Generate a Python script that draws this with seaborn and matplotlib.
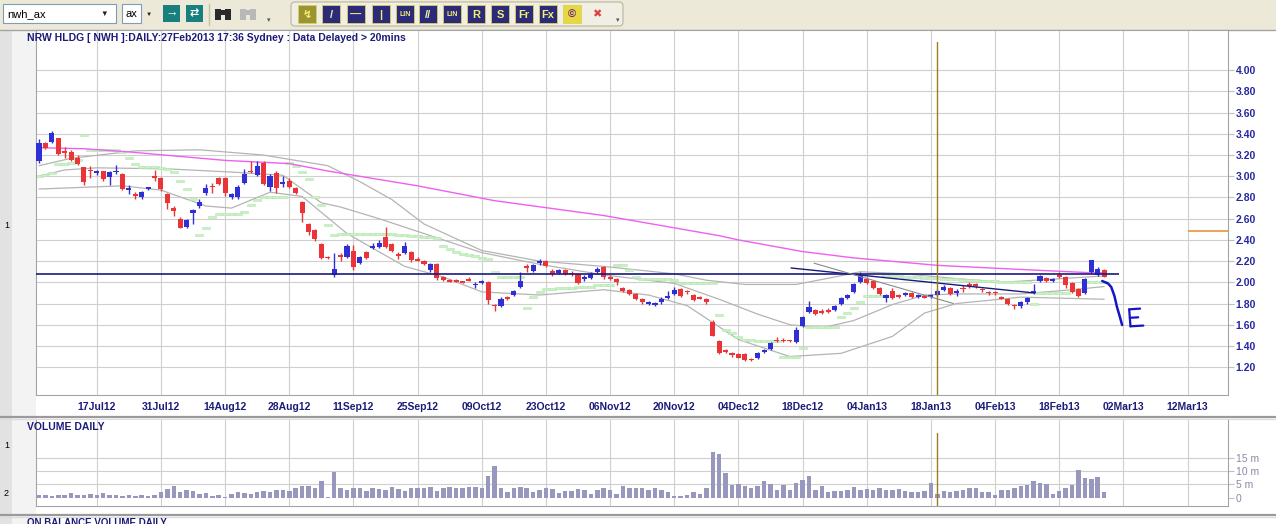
import numpy as np
import matplotlib.pyplot as plt
import seaborn as sns
from matplotlib.patches import Rectangle, FancyBboxPatch

W, H = 1276, 524

# ---------------- data ----------------
date_labels = ["17Jul12", "31Jul12", "14Aug12", "28Aug12", "11Sep12", "25Sep12",
               "09Oct12", "23Oct12", "06Nov12", "20Nov12", "04Dec12", "18Dec12",
               "04Jan13", "18Jan13", "04Feb13", "18Feb13", "02Mar13", "12Mar13"]
date_pos = [9, 19, 29, 39, 49, 59, 69, 79, 89, 99, 109, 119, 129, 139, 149, 159, 169, 179]

opens = [3.14, 3.31, 3.32, 3.36, 3.24, 3.23, 3.17, 3.09, 3.06, 3.04,
         3.05, 2.99, 3.04, 3.02, 2.875, 2.83, 2.80, 2.885, 3.00, 2.98,
         2.83, 2.70, 2.60, 2.52, 2.65, 2.72, 2.84, 2.91, 2.98, 2.98,
         2.80, 2.80, 2.94, 3.05, 3.01, 3.13, 2.90, 3.03, 2.935, 2.96,
         2.89, 2.76, 2.55, 2.49, 2.36, 2.24, 2.07, 2.25, 2.24, 2.30,
         2.18, 2.29, 2.325, 2.33, 2.43, 2.36, 2.26, 2.28, 2.29, 2.215,
         2.20, 2.12, 2.17, 2.05, 2.015, 2.015, 2.005, 2.025, 1.975, 1.99,
         2.00, 1.785, 1.78, 1.855, 1.88, 1.96, 2.145, 2.11, 2.185, 2.20,
         2.11, 2.09, 2.12, 2.085, 2.08, 2.035, 2.04, 2.10, 2.14, 2.045,
         2.03, 1.95, 1.93, 1.89, 1.84, 1.805, 1.795, 1.81, 1.855, 1.89,
         1.94, 1.915, 1.88, 1.855, 1.84, 1.63, 1.45, 1.355, 1.33, 1.32,
         1.32, 1.275, 1.29, 1.345, 1.37, 1.455, 1.455, 1.455, 1.44, 1.59,
         1.72, 1.74, 1.725, 1.735, 1.74, 1.80, 1.85, 1.91, 2.00, 2.03,
         2.01, 1.95, 1.85, 1.92, 1.88, 1.885, 1.90, 1.86, 1.865, 1.865,
         1.88, 1.93, 1.95, 1.905, 1.945, 1.975, 1.975, 1.935, 1.905, 1.905,
         1.86, 1.84, 1.785, 1.78, 1.81, 1.90, 2.01, 2.04, 2.01, 2.065,
         2.05, 1.99, 1.94, 1.90, 2.10, 2.07, 2.12]
highs = [3.35, 3.32, 3.43, 3.36, 3.28, 3.25, 3.20, 3.09, 3.10, 3.06,
         3.05, 3.05, 3.11, 3.03, 2.92, 2.85, 2.86, 2.90, 3.06, 2.99,
         2.84, 2.72, 2.62, 2.60, 2.69, 2.79, 2.93, 2.94, 2.99, 2.99,
         2.84, 2.92, 3.07, 3.14, 3.14, 3.14, 3.02, 3.05, 3.00, 2.98,
         2.90, 2.77, 2.56, 2.50, 2.37, 2.25, 2.28, 2.28, 2.36, 2.35,
         2.25, 2.30, 2.37, 2.40, 2.52, 2.37, 2.29, 2.38, 2.30, 2.24,
         2.21, 2.18, 2.18, 2.06, 2.03, 2.03, 2.01, 2.05, 2.00, 2.02,
         2.01, 1.80, 1.86, 1.87, 1.93, 2.10, 2.17, 2.17, 2.22, 2.21,
         2.13, 2.13, 2.13, 2.11, 2.09, 2.07, 2.10, 2.14, 2.15, 2.07,
         2.04, 1.96, 1.94, 1.90, 1.85, 1.82, 1.81, 1.86, 1.92, 1.96,
         1.95, 1.93, 1.89, 1.87, 1.85, 1.64, 1.46, 1.37, 1.34, 1.33,
         1.33, 1.29, 1.34, 1.37, 1.44, 1.48, 1.47, 1.46, 1.58, 1.68,
         1.82, 1.75, 1.75, 1.76, 1.79, 1.86, 1.89, 1.99, 2.10, 2.05,
         2.02, 1.96, 1.89, 1.95, 1.89, 1.91, 1.91, 1.89, 1.88, 1.89,
         1.94, 1.97, 1.96, 1.94, 1.97, 2.00, 1.99, 1.95, 1.92, 1.92,
         1.87, 1.85, 1.80, 1.82, 1.86, 1.98, 2.07, 2.05, 2.04, 2.10,
         2.06, 2.00, 1.95, 2.04, 2.21, 2.14, 2.13]
lows = [3.13, 3.26, 3.31, 3.20, 3.17, 3.14, 3.11, 2.92, 2.98, 3.01,
        2.96, 2.92, 3.02, 2.87, 2.83, 2.79, 2.79, 2.87, 2.96, 2.86,
        2.69, 2.63, 2.51, 2.51, 2.55, 2.70, 2.82, 2.84, 2.92, 2.81,
        2.79, 2.79, 2.93, 3.03, 3.00, 2.92, 2.86, 2.84, 2.90, 2.89,
        2.83, 2.57, 2.45, 2.39, 2.22, 2.22, 2.05, 2.20, 2.23, 2.12,
        2.17, 2.22, 2.31, 2.32, 2.32, 2.29, 2.22, 2.27, 2.19, 2.20,
        2.16, 2.10, 2.02, 2.01, 2.00, 2.00, 1.99, 2.01, 1.95, 1.98,
        1.80, 1.73, 1.77, 1.83, 1.87, 1.95, 2.10, 2.10, 2.16, 2.14,
        2.06, 2.08, 2.07, 2.06, 1.98, 2.01, 2.03, 2.09, 2.03, 2.02,
        1.97, 1.91, 1.88, 1.83, 1.80, 1.79, 1.78, 1.80, 1.84, 1.88,
        1.86, 1.89, 1.82, 1.84, 1.80, 1.49, 1.32, 1.33, 1.30, 1.29,
        1.26, 1.26, 1.28, 1.33, 1.36, 1.44, 1.44, 1.44, 1.43, 1.58,
        1.71, 1.69, 1.70, 1.71, 1.73, 1.79, 1.84, 1.90, 1.99, 1.98,
        1.94, 1.88, 1.81, 1.84, 1.85, 1.87, 1.85, 1.85, 1.85, 1.85,
        1.87, 1.92, 1.88, 1.87, 1.91, 1.95, 1.95, 1.91, 1.88, 1.88,
        1.84, 1.79, 1.75, 1.76, 1.80, 1.89, 2.00, 2.00, 2.00, 2.04,
        1.95, 1.90, 1.86, 1.89, 2.09, 2.06, 2.05]
closes = [3.31, 3.27, 3.41, 3.21, 3.22, 3.15, 3.12, 2.95, 3.05, 3.045,
          2.97, 3.04, 3.05, 2.88, 2.885, 2.82, 2.85, 2.89, 2.99, 2.88,
          2.75, 2.67, 2.51, 2.59, 2.68, 2.76, 2.89, 2.90, 2.93, 2.84,
          2.83, 2.90, 3.02, 3.04, 3.10, 2.93, 3.00, 2.89, 2.945, 2.90,
          2.84, 2.65, 2.47, 2.41, 2.23, 2.23, 2.13, 2.24, 2.34, 2.14,
          2.24, 2.23, 2.335, 2.37, 2.33, 2.30, 2.25, 2.34, 2.21, 2.21,
          2.17, 2.17, 2.04, 2.02, 2.01, 2.01, 2.00, 2.02, 1.985, 2.01,
          1.83, 1.78, 1.84, 1.85, 1.92, 2.01, 2.14, 2.16, 2.195, 2.15,
          2.08, 2.12, 2.08, 2.08, 1.99, 2.045, 2.08, 2.13, 2.05, 2.04,
          2.00, 1.92, 1.89, 1.84, 1.81, 1.81, 1.80, 1.84, 1.865, 1.93,
          1.87, 1.91, 1.83, 1.85, 1.81, 1.49, 1.33, 1.35, 1.31, 1.29,
          1.27, 1.27, 1.33, 1.355, 1.43, 1.45, 1.45, 1.45, 1.55, 1.67,
          1.77, 1.70, 1.72, 1.73, 1.78, 1.85, 1.88, 1.98, 2.07, 1.99,
          1.95, 1.89, 1.88, 1.85, 1.86, 1.895, 1.86, 1.88, 1.86, 1.875,
          1.92, 1.96, 1.89, 1.915, 1.94, 1.97, 1.97, 1.93, 1.90, 1.90,
          1.85, 1.80, 1.78, 1.81, 1.85, 1.92, 2.06, 2.01, 2.03, 2.06,
          1.97, 1.91, 1.87, 2.03, 2.21, 2.13, 2.05]
volume_m = [1.0, 1.0, 0.8, 1.0, 1.2, 1.8, 1.0, 1.2, 1.5, 1.0,
            1.8, 1.0, 1.2, 0.5, 1.0, 0.8, 1.2, 0.8, 1.0, 2.0,
            3.2, 4.5, 2.0, 3.0, 2.5, 1.5, 1.8, 0.8, 1.0, 0.3,
            1.5, 2.0, 1.8, 1.5, 2.0, 2.5, 2.0, 2.8, 3.0, 2.5,
            3.5, 4.5, 4.5, 3.8, 6.2, 0.3, 9.8, 3.5, 3.0, 3.8,
            3.8, 2.5, 3.5, 3.2, 3.0, 4.0, 3.2, 2.5, 3.5, 3.8,
            3.8, 4.0, 2.5, 3.8, 4.0, 3.8, 3.5, 4.0, 4.2, 3.5,
            8.2, 11.8, 3.5, 2.0, 3.8, 4.0, 3.8, 2.0, 3.0, 3.5,
            3.2, 1.8, 2.5, 2.5, 3.2, 3.0, 1.5, 2.8, 3.8, 3.0,
            1.5, 4.5, 3.8, 3.5, 3.8, 3.0, 3.5, 2.8, 2.2, 0.6,
            0.8, 1.2, 2.0, 1.5, 3.5, 17.0, 16.3, 9.3, 4.8, 5.0,
            4.3, 3.8, 4.5, 6.2, 5.3, 3.0, 4.8, 3.0, 5.5, 6.5,
            8.2, 3.0, 4.5, 2.0, 2.5, 2.5, 3.0, 4.0, 3.0, 3.2,
            3.0, 3.5, 2.8, 3.0, 3.2, 2.5, 2.0, 2.2, 2.5, 5.5,
            1.5, 2.5, 2.0, 2.5, 3.0, 3.8, 3.5, 2.2, 2.0, 1.2,
            2.8, 3.0, 3.5, 4.5, 4.8, 6.2, 5.5, 5.3, 1.5, 2.5,
            3.8, 4.8, 10.5, 7.4, 7.0, 7.8, 2.0]
sar = [3.00, 3.01, 3.03, 3.12, 3.12, 3.13, 3.15, 3.39, 3.25, 3.25,
       3.25, 3.25, 3.25, 3.23, 3.17, 3.12, 3.09, 3.09, 3.09, 3.08,
       3.07, 3.04, 2.96, 2.88, 2.79, 2.45, 2.51, 2.62, 2.64, 2.64,
       2.64, 2.64, 2.66, 2.73, 2.78, 2.80, 2.80, 2.80, 2.80, 3.13,
       3.10, 3.04, 2.97, 2.80, 2.73, 2.54, 2.45, 2.46, 2.46, 2.46,
       2.46, 2.46, 2.46, 2.46, 2.46, 2.46, 2.45, 2.45, 2.44, 2.44,
       2.43, 2.43, 2.42, 2.34, 2.31, 2.29, 2.27, 2.26, 2.25, 2.23,
       2.22, 2.10, 2.05, 2.05, 2.05, 2.05, 1.76, 1.86, 1.91, 1.94,
       1.94, 1.95, 1.95, 1.95, 1.96, 1.96, 1.96, 1.97, 1.97, 1.97,
       2.16, 2.16, 2.12, 2.05, 2.03, 2.03, 2.03, 2.03, 2.03, 2.02,
       1.99, 1.99, 1.99, 1.99, 1.99, 1.99, 1.69, 1.55, 1.52, 1.48,
       1.46, 1.46, 1.45, 1.45, 1.45, 1.45, 1.30, 1.30, 1.30, 1.38,
       1.58, 1.58, 1.58, 1.58, 1.58, 1.67, 1.71, 1.76, 1.81, 1.87,
       1.87, 1.87, 2.07, 2.06, 2.06, 2.05, 2.05, 2.05, 2.04, 2.04,
       2.04, 2.03, 2.03, 2.03, 2.02, 2.02, 2.02, 2.01, 2.01, 2.01,
       2.00, 2.00, 2.00, 2.00, 2.00, 1.80, 1.90, 1.90, 1.90, 1.90,
       1.90, 1.93, 1.93, 2.00, 2.00, 2.00, 2.00]

# long moving average (magenta) and bands (grey), sampled where read
ma_idx = [0, 7, 14, 29, 39, 45, 48, 59, 71, 88, 106, 109, 119, 127, 140, 150, 164, 166]
ma_val = [3.27, 3.26, 3.23, 3.15, 3.12, 3.05, 3.02, 2.91, 2.77, 2.63, 2.44, 2.40, 2.29, 2.23, 2.16, 2.13, 2.09, 2.09]
bb_up_idx = [0, 5, 15, 25, 35, 40, 45, 50, 55, 60, 69, 78, 88, 99, 104, 110, 118, 124, 128, 135, 142, 150, 158, 166]
bb_up_val = [3.10, 3.17, 3.24, 3.25, 3.20, 3.15, 3.10, 2.95, 2.78, 2.55, 2.30, 2.20, 2.15, 2.08, 2.02, 1.98, 1.98, 2.05, 2.10, 2.08, 2.04, 2.00, 2.03, 2.06]
bb_mid_idx = [0, 4, 9, 20, 30, 38, 44, 47, 53, 59, 64, 69, 78, 88, 99, 106, 112, 117, 122, 127, 133, 138, 143, 153, 161, 166]
bb_mid_val = [3.00, 3.06, 3.08, 3.07, 3.04, 3.01, 2.75, 2.71, 2.60, 2.48, 2.38, 2.28, 2.17, 2.07, 1.99, 1.84, 1.70, 1.60, 1.57, 1.64, 1.79, 1.88, 1.89, 1.89, 1.93, 1.96]
bb_low_idx = [0, 13, 19, 26, 30, 36, 41, 48, 57, 63, 69, 78, 88, 95, 101, 105, 109, 117, 125, 133, 138, 143, 153, 166]
bb_low_val = [2.88, 2.91, 2.87, 2.72, 2.70, 2.85, 2.81, 2.46, 2.15, 2.05, 1.91, 1.88, 1.93, 1.88, 1.78, 1.62, 1.46, 1.30, 1.33, 1.49, 1.71, 1.80, 1.86, 1.84]

# drawn objects on the chart
support_level = 2.075
support_span = [-0.5, 168.3]
trend_idx = [117.2, 155.2]
trend_val = [2.135, 1.899]
fan_idx = [120.8, 142.5]
fan_val = [2.18, 1.80]
target_level = 2.48
target_span = [179, 186]
cursor_idx = 140
pen_idx = [165.7, 166.6, 167.1, 167.6, 168.0, 168.5, 168.8]
pen_val = [2.012, 1.989, 1.956, 1.871, 1.767, 1.663, 1.597]

price_ticks = [1.2, 1.4, 1.6, 1.8, 2.0, 2.2, 2.4, 2.6, 2.8, 3.0, 3.2, 3.4, 3.6, 3.8, 4.0]
vol_ticks = [0, 5, 10, 15]
vol_tick_labels = ["0", "5 m", "10 m", "15 m"]

title = "NRW HLDG [ NWH ]:DAILY:27Feb2013 17:36 Sydney : Data Delayed > 20mins"

# ---------------- styling ----------------
NAVY = "#1c1c78"
BLUE = "#2f2fd4"
RED = "#ea3438"
GRID = "#cfcfcf"
FRAME = "#a4a4a4"

sns.set_style("white")
plt.rcParams["font.family"] = ["Liberation Sans", "DejaVu Sans"]

fig = plt.figure(figsize=(W / 100, H / 100), dpi=100)
fig.patch.set_facecolor("white")


def frac(x0, y0, x1, y1):
    return [x0 / W, 1 - y1 / H, (x1 - x0) / W, (y1 - y0) / H]


# background chrome in pixel coordinates
bg = fig.add_axes([0, 0, 1, 1], zorder=-5)
bg.set_xlim(0, W)
bg.set_ylim(H, 0)
bg.axis("off")


def box(x0, y0, x1, y1, fc, ec="none", lw=0.8, z=1):
    bg.add_patch(Rectangle((x0, y0), x1 - x0, y1 - y0, facecolor=fc,
                           edgecolor=ec, linewidth=lw, zorder=z))


box(0, 30, 12, H, "#e2e2e2")
box(12, 30, 36, H, "#f3f3f3")
box(0, 0, W, 30, "#ece9d8")
bg.plot([0, W], [30, 30], color=FRAME, lw=1)
for yy in (417, 515):
    bg.plot([0, W], [yy, yy], color="#9a9a9a", lw=1.6)
    bg.plot([0, W], [yy + 2, yy + 2], color="#dcdcdc", lw=1)

# toolbar
box(3, 4, 116, 23, "white", ec="#7f9db9")
bg.text(7, 14, "nwh_ax", fontsize=8, va="center", color="black")
bg.text(104, 14.5, "▼", fontsize=5.5, va="center", ha="center", color="#222222")
box(122, 4, 141, 23, "white", ec="#7f9db9")
bg.text(125, 14, "ax", fontsize=8, va="center", color="black")
bg.text(149, 14.5, "▼", fontsize=4.5, va="center", ha="center", color="#222222")
box(163, 5, 180, 22, "#17807e")
bg.text(171.5, 13.5, "→", fontsize=9, fontweight="bold", va="center", ha="center", color="white")
box(186, 5, 203, 22, "#17807e")
bg.text(194.5, 13.5, "⇄", fontsize=8, fontweight="bold", va="center", ha="center", color="white")
bg.plot([209, 209], [4, 25], color="#c4c0aa", lw=1)
for x0, col in ((215, "#2a2a2a"), (240, "#b8b8b8")):
    box(x0, 9, x0 + 6, 20, col)
    box(x0 + 10, 9, x0 + 16, 20, col)
    box(x0 + 4, 10, x0 + 12, 15, col)
bg.text(269, 21, "▾", fontsize=5, va="center", ha="center", color="#555555")
bg.add_patch(FancyBboxPatch((291, 2), 332, 24, boxstyle="round,pad=0,rounding_size=4",
                            facecolor="#f1efe4", edgecolor="#b9b49c", lw=0.8, zorder=1))
icons = [("#9c9430", "↯", "#f4f070"), ("#2b2b7a", "/", "#f4f2a8"), ("#2b2b7a", "—", "#f4f070"),
         ("#2b2b7a", "|", "#f4f070"), ("#2b2b7a", "LIN", "#f4f070"), ("#2b2b7a", "//", "#f4f2a8"),
         ("#2b2b7a", "LIN", "#f4f070"), ("#2b2b7a", "R", "#f4f070"), ("#2b2b7a", "S", "#f4f070"),
         ("#2b2b7a", "Fr", "#f4f070"), ("#2b2b7a", "Fx", "#f4f070"), ("#e8d840", "©", "#6a2a8a"),
         (None, "✖", "#e04040")]
icon_x = [307, 331, 356, 381, 405, 428, 452, 476, 500, 524, 548, 572, 597]
for cx, (fc, glyph, tc) in zip(icon_x, icons):
    if fc is not None:
        box(cx - 9, 5, cx + 9, 23, fc, ec="#d8d060", lw=0.6)
    size = 5 if len(glyph) == 3 else 8
    bg.text(cx, 14.5, glyph, fontsize=size, fontweight="bold", va="center", ha="center", color=tc)
bg.text(618, 21, "▾", fontsize=5, va="center", ha="center", color="#555555")

# navigation buttons top right
box(1128, 31, 1227, 42, "#e4e4ec", ec="#c8c8d0", lw=0.6, z=3)
for cx, g, col in ((1141, "|◀", NAVY), (1167, "◀", NAVY), (1190, "▶", NAVY), (1216, "▶|", "#b0b0c0")):
    bg.text(cx, 36.5, g, fontsize=5.5, va="center", ha="center", color=col, zorder=4)

# left margin labels
bg.text(4, 226, "1", fontsize=6.5, va="center", color="black")
bg.text(4, 445, "1", fontsize=6.5, va="center", color="black")
bg.text(4, 494, "2", fontsize=6.5, va="center", color="black")

# ---------------- price panel ----------------
idx = np.arange(len(closes))
o = np.array(opens)
c = np.array(closes)
colors = np.where(c >= o, BLUE, RED)

ax = fig.add_axes(frac(36, 30, 1228, 395))
ax.set_facecolor("white")
ax.set_xlim(-0.47, 185.3)
ax.set_ylim(0.937, 4.38)

sns.lineplot(x=bb_up_idx, y=bb_up_val, ax=ax, color="#b4b4b4", lw=0.9, zorder=2)
sns.lineplot(x=bb_mid_idx, y=bb_mid_val, ax=ax, color="#b4b4b4", lw=0.9, zorder=2)
sns.lineplot(x=bb_low_idx, y=bb_low_val, ax=ax, color="#b4b4b4", lw=0.9, zorder=2)
sns.scatterplot(x=idx, y=sar, ax=ax, marker=[(-1, -0.4), (1, -0.4), (1, 0.4), (-1, 0.4), (-1, -0.4)],
                s=26, color="#c8f2c4", edgecolor="#b4e6ae", linewidth=0.4, zorder=2.5)
sns.lineplot(x=ma_idx, y=ma_val, ax=ax, color="#ee60ee", lw=1.0, zorder=3)

ax.vlines(idx, lows, highs, colors=colors, lw=1.0, zorder=4)
body = np.maximum(np.abs(c - o), 0.016)
mid = (c + o) / 2
ax.bar(idx, body, bottom=mid - body / 2, width=0.8, color=colors, lw=0, zorder=5)

ax.hlines(support_level, *support_span, color="#1a1a80", lw=1.2, zorder=6)
sns.lineplot(x=trend_idx, y=trend_val, ax=ax, color="#1a1a80", lw=1.0, zorder=6)
sns.lineplot(x=fan_idx, y=fan_val, ax=ax, color="#8a8a8a", lw=0.8, zorder=6)
ax.hlines(target_level, *target_span, color="#e8882a", lw=1.1, zorder=6)
ax.axvline(cursor_idx, ymin=0, ymax=0.967, color="#9c7c1c", lw=1.0, zorder=7)

# hand-drawn mark
sns.lineplot(x=pen_idx, y=pen_val, ax=ax, color="#1515c8", lw=1.8, zorder=8, sort=False)
ax.plot([169.9, 170.1], [1.745, 1.585], color="#1515c8", lw=1.6, zorder=8)
ax.plot([169.9, 171.6], [1.745, 1.752], color="#1515c8", lw=1.6, zorder=8)
ax.plot([170.0, 171.3], [1.665, 1.670], color="#1515c8", lw=1.6, zorder=8)
ax.plot([170.1, 172.1], [1.585, 1.592], color="#1515c8", lw=1.6, zorder=8)

ax.set_xticks(date_pos)
ax.set_xticklabels(date_labels, fontsize=7.5, fontweight="bold", color=NAVY)
ax.yaxis.tick_right()
ax.set_yticks(price_ticks)
ax.set_yticklabels([f"{p:.2f}" for p in price_ticks], fontsize=7.5, fontweight="bold", color="#2626a0")
ax.tick_params(axis="x", length=0, pad=5)
ax.tick_params(axis="y", length=4, color="#c0c0c0", pad=1.5)
ax.grid(True, color=GRID, lw=0.8, zorder=0)
ax.set_axisbelow(True)
ax.set_xlabel("")
ax.set_ylabel("")
for s in ax.spines.values():
    s.set_color(FRAME)
    s.set_linewidth(0.8)

# ---------------- volume panel ----------------
axv = fig.add_axes(frac(36, 420, 1228, 506))
sns.barplot(x=idx, y=volume_m, ax=axv, native_scale=True, color="#9898be",
            saturation=1, width=0.7, errorbar=None, linewidth=0, zorder=3)
axv.set_xlim(-0.47, 185.3)
axv.set_ylim(-3.1, 29.2)
axv.axvline(cursor_idx, ymin=0, ymax=0.85, color="#9c7c1c", lw=1.0, zorder=7)
axv.set_xticks(date_pos)
axv.set_xticklabels([])
axv.yaxis.tick_right()
axv.set_yticks(vol_ticks)
axv.set_yticklabels(vol_tick_labels, fontsize=7.5, color="#8a8aa6")
axv.tick_params(axis="x", length=0)
axv.tick_params(axis="y", length=4, color="#c0c0c0", pad=1.5)
axv.grid(True, color=GRID, lw=0.8, zorder=0)
axv.yaxis.get_gridlines()[0].set_visible(False)
axv.set_axisbelow(True)
axv.set_xlabel("")
axv.set_ylabel("")
for s in axv.spines.values():
    s.set_color(FRAME)
    s.set_linewidth(0.8)
axv.spines["top"].set_visible(False)

# panel titles
fig.text(27 / W, 1 - 38 / H, title, fontsize=7.5, fontweight="bold", color=NAVY, va="center")
fig.text(27 / W, 1 - 427 / H, "VOLUME DAILY", fontsize=7.5, fontweight="bold", color=NAVY, va="center")
fig.text(27 / W, 1 - 518 / H, "ON BALANCE VOLUME DAILY", fontsize=7, fontweight="bold", color=NAVY, va="top")

fig.savefig("out.png", dpi=100)
